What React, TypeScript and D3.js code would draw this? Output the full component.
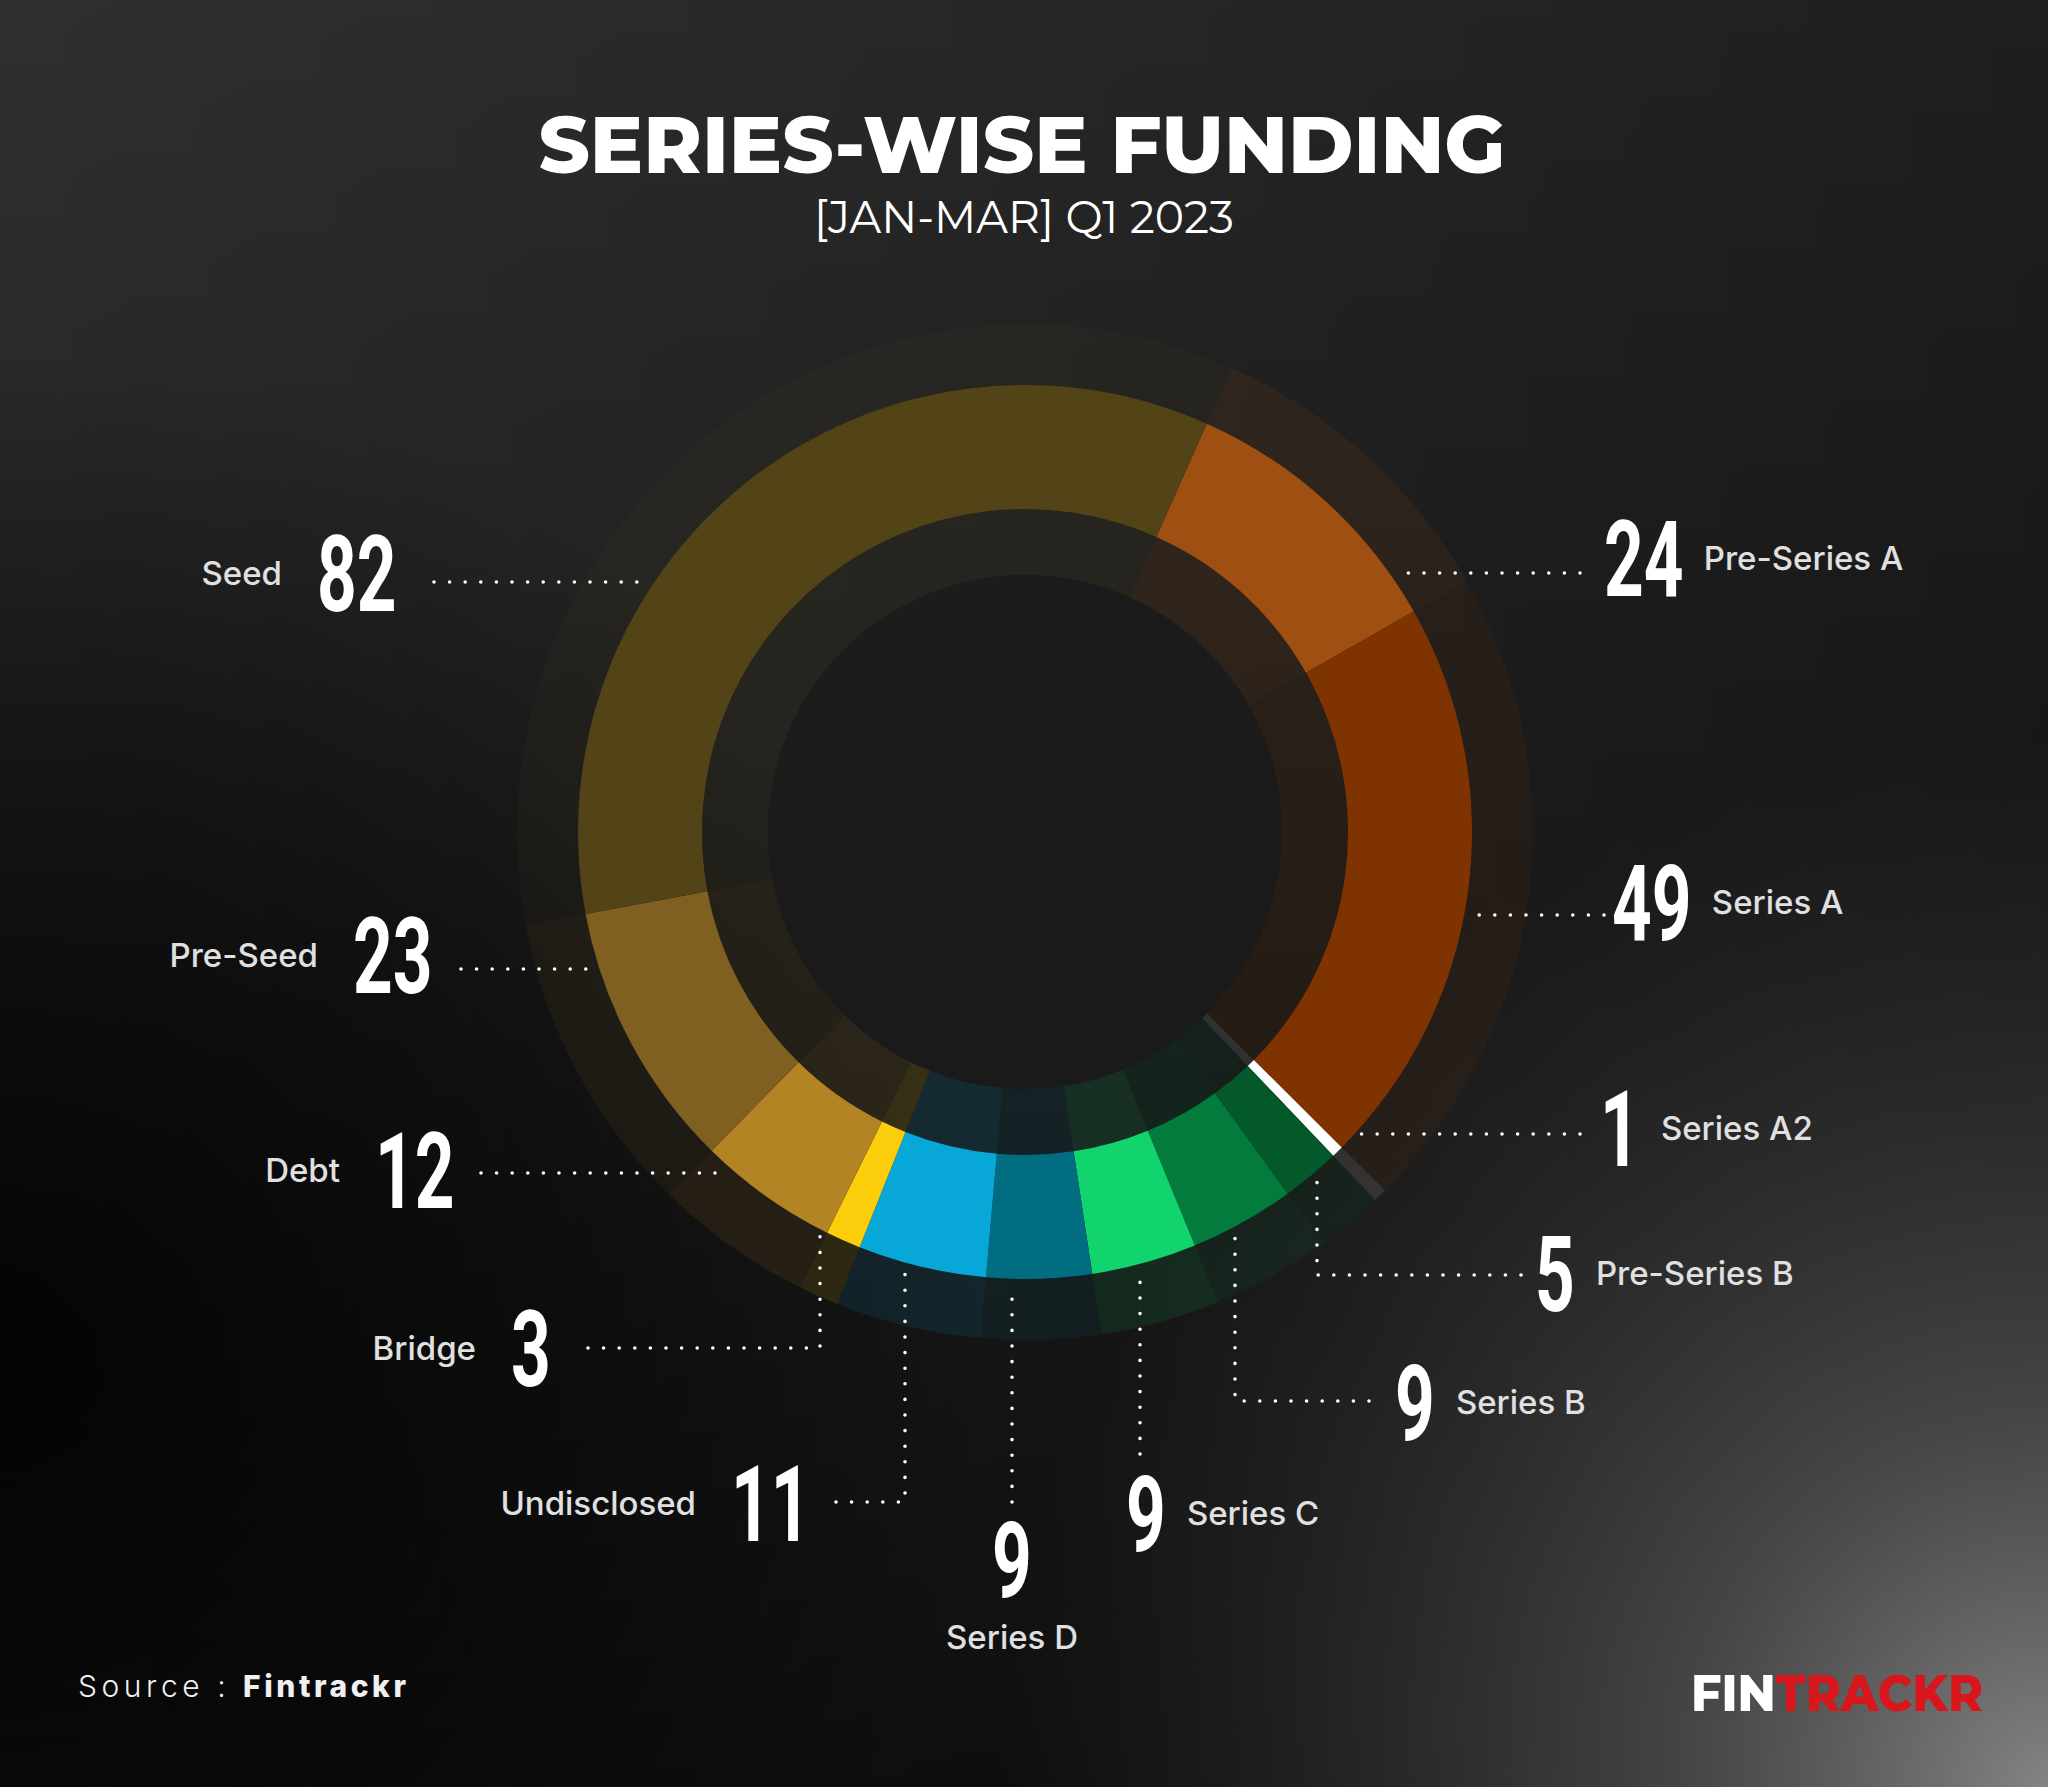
import React from "react";
import * as d3 from "d3";

// ---------- data ----------
const categories = [
  "Pre-Series A",
  "Series A",
  "Series A2",
  "Pre-Series B",
  "Series B",
  "Series C",
  "Series D",
  "Undisclosed",
  "Bridge",
  "Debt",
  "Pre-Seed",
  "Seed",
];
const deals = [24, 49, 1, 5, 9, 9, 9, 11, 3, 12, 23, 82];

// ---------- style ----------
const segmentColors = [
  "#a04f12",
  "#7e3300",
  "#ffffff",
  "#03592a",
  "#027b3c",
  "#12d46f",
  "#006e80",
  "#07a8d8",
  "#fccd0a",
  "#b38424",
  "#7f6020",
  "#524417",
];

// annotation layout (label anchors and leader paths)
const labelLayout = [
  { nx: 1604, ny: 596, side: "right", lead: { kind: "h", y: 573, to: 1580 } },
  { nx: 1612, ny: 940, side: "right", lead: { kind: "h", y: 915, to: 1604 } },
  { nx: 1600, ny: 1166, side: "right", lead: { kind: "h", y: 1134, to: 1580 } },
  { nx: 1535, ny: 1311, side: "right", lead: { kind: "v", x: 1317, y: 1275, to: 1521 } },
  { nx: 1395, ny: 1440, side: "right", lead: { kind: "v", x: 1235, y: 1401, to: 1369 } },
  { nx: 1126, ny: 1551, side: "right", lead: { kind: "v", x: 1140, y: 1454 } },
  { nx: 1012, ny: 1597, side: "below", lead: { kind: "v", x: 1012, y: 1502 } },
  { nx: 731, ny: 1541, side: "left", lead: { kind: "v", x: 905, y: 1502, to: 836 } },
  { nx: 511, ny: 1386, side: "left", lead: { kind: "v", x: 820, y: 1348, to: 588 } },
  { nx: 375, ny: 1208, side: "left", lead: { kind: "h", y: 1173, to: 481 } },
  { nx: 353, ny: 993, side: "left", lead: { kind: "h", y: 969, to: 461 } },
  { nx: 317, ny: 611, side: "left", lead: { kind: "h", y: 582, to: 434 } },
];

const W = 2048;
const H = 1787;
const CX = 1025;
const CY = 832;
const R_CORE = 257;
const R_IN = 323;
const R_OUT = 447;
const R_HALO = 508;
const R_LEAD = 452;
const START = (24 * Math.PI) / 180;

const NUM_FONT = "Roboto, 'DejaVu Sans', sans-serif";
const LABEL_FONT = "Inter, 'Noto Sans', sans-serif";
const NUM_SCALE = 0.66;
const NUM_SIZE = 105;
const DIGIT_ADV = 0.5615 * NUM_SIZE * NUM_SCALE;

export default function App() {
  const rows = categories.map((c, i) => ({ name: c, value: deals[i], color: segmentColors[i] }));
  const pie = d3
    .pie<any>()
    .sort(null)
    .value((d: any) => d.value)
    .startAngle(START)
    .endAngle(START + 2 * Math.PI);
  const arcs = pie(rows);

  const mainArc = d3.arc<any>().innerRadius(R_IN).outerRadius(R_OUT);
  const innerBand = d3.arc<any>().innerRadius(R_CORE).outerRadius(R_IN);
  const haloBand = d3.arc<any>().innerRadius(R_OUT).outerRadius(R_HALO);

  const leaderPath = (l: any, side: string) => {
    if (l.kind === "h") {
      const dy = l.y - CY;
      const dx = Math.sqrt(R_LEAD * R_LEAD - dy * dy);
      const xc = side === "left" ? CX - dx : CX + dx;
      return d3.line()([
        [l.to, l.y],
        [xc, l.y],
      ]);
    }
    const dxv = l.x - CX;
    const yc = CY + Math.sqrt(R_LEAD * R_LEAD - dxv * dxv);
    const pts: [number, number][] = [];
    if (l.to !== undefined) pts.push([l.to, l.y]);
    pts.push([l.x, l.y]);
    pts.push([l.x, yc]);
    return d3.line()(pts);
  };

  return (
    <svg width={W} height={H} viewBox={`0 0 ${W} ${H}`} style={{ display: "block", position: "absolute", left: 0, top: 0 }}>
      <defs>
        <linearGradient id="bgBase" x1="0" y1="0" x2="0" y2="1">
          <stop offset="0" stopColor="#2f2f2f" />
          <stop offset="0.45" stopColor="#232323" />
          <stop offset="1" stopColor="#111111" />
        </linearGradient>
        <linearGradient id="bgRight" x1="0" y1="0" x2="1" y2="0">
          <stop offset="0" stopColor="#000" stopOpacity="0" />
          <stop offset="1" stopColor="#000" stopOpacity="0.35" />
        </linearGradient>
        <radialGradient id="bgLeft" cx="0" cy={1350} r={1000} gradientUnits="userSpaceOnUse">
          <stop offset="0" stopColor="#000" stopOpacity="0.85" />
          <stop offset="0.55" stopColor="#000" stopOpacity="0.45" />
          <stop offset="1" stopColor="#000" stopOpacity="0" />
        </radialGradient>
        <radialGradient id="bgCorner" cx={W} cy={H} r={1050} gradientUnits="userSpaceOnUse">
          <stop offset="0" stopColor="#8a8a8a" stopOpacity="0.95" />
          <stop offset="0.35" stopColor="#6a6a6a" stopOpacity="0.6" />
          <stop offset="1" stopColor="#444" stopOpacity="0" />
        </radialGradient>
      </defs>

      <rect x={0} y={0} width={W} height={H} fill="url(#bgBase)" />
      <rect x={0} y={0} width={W} height={H} fill="url(#bgRight)" />
      <rect x={0} y={0} width={W} height={H} fill="url(#bgLeft)" />
      <rect x={0} y={0} width={W} height={H} fill="url(#bgCorner)" />

      {/* title */}
      <text x={1022} y={173} textAnchor="middle" fill="#ffffff" fontFamily="Montserrat, Inter, sans-serif" fontWeight={800} fontSize={79} textLength={967} lengthAdjust="spacingAndGlyphs">
        SERIES-WISE FUNDING
      </text>
      <text x={1024} y={233} textAnchor="middle" fill="#ffffff" fontFamily="Montserrat, Inter, sans-serif" fontWeight={400} fontSize={45} textLength={420} lengthAdjust="spacingAndGlyphs">
        [JAN-MAR] Q1 2023
      </text>

      {/* donut */}
      <g transform={`translate(${CX},${CY})`}>
        <circle r={R_CORE} fill="#1b1b1b" opacity={0.75} />
        {arcs.map((a: any, i: number) => (
          <path key={"h" + i} d={haloBand(a) as string} fill={a.data.color} fillOpacity={a.data.color === "#ffffff" ? 0.1 : 0.11} />
        ))}
        {arcs.map((a: any, i: number) => (
          <path key={"i" + i} d={innerBand(a) as string} fill={a.data.color} fillOpacity={a.data.color === "#ffffff" ? 0.1 : 0.13} />
        ))}
        {arcs.map((a: any, i: number) => (
          <path key={"m" + i} d={mainArc(a) as string} fill={a.data.color} />
        ))}
      </g>

      {/* leaders */}
      {labelLayout.map((l, i) => (
        <path
          key={"l" + i}
          d={leaderPath(l.lead, l.side) as string}
          fill="none"
          stroke="#ffffff"
          strokeWidth={3.6}
          strokeLinecap="round"
          strokeDasharray="0 15.6"
        />
      ))}

      {/* labels */}
      {labelLayout.map((l, i) => {
        const txt = String(deals[i]);
        const numW = txt.length * DIGIT_ADV;
        const anchorMid = l.side === "below";
        let lx = 0;
        let ly = l.ny - 26;
        let la: any = "start";
        if (l.side === "right") {
          lx = l.nx + numW + 22;
        } else if (l.side === "left") {
          lx = l.nx - 35;
          la = "end";
        } else {
          lx = l.nx;
          ly = l.ny + 52;
          la = "middle";
        }
        return (
          <g key={"t" + i}>
            <text
              transform={`translate(${l.nx},${l.ny}) scale(${NUM_SCALE},1)`}
              textAnchor={anchorMid ? "middle" : "start"}
              fill="#ffffff"
              fontFamily={NUM_FONT}
              fontWeight={700}
              fontSize={NUM_SIZE}
            >
              {txt}
            </text>
            <text x={lx} y={ly} textAnchor={la} fill="#e0e0e0" fontFamily={LABEL_FONT} fontWeight={500} fontSize={33}>
              {categories[i]}
            </text>
          </g>
        );
      })}

      {/* footer */}
      <text x={78} y={1697} fill="#f0f0f0" fontFamily={LABEL_FONT} fontSize={30} textLength={331} lengthAdjust="spacing">
        <tspan fontWeight={300} letterSpacing={4}>Source : </tspan>
        <tspan fontWeight={800} letterSpacing={3}>Fintrackr</tspan>
      </text>
      <text x={1691} y={1711} fontFamily="Montserrat, Inter, sans-serif" fontWeight={800} fontSize={50} textLength={292} lengthAdjust="spacingAndGlyphs">
        <tspan fill="#ffffff">FIN</tspan>
        <tspan fill="#d9161c">TRACKR</tspan>
      </text>
    </svg>
  );
}
